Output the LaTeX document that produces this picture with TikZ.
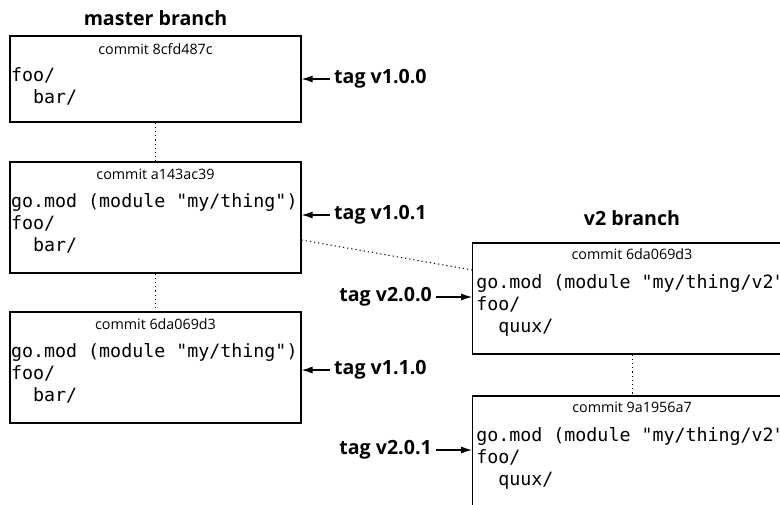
\documentclass[tikz,border=0pt]{standalone}
\usepackage{fontspec}
\newfontfamily\sansfont{Open Sans}
\setmonofont{DejaVu Sans Mono}
\usetikzlibrary{positioning, calc, arrows.meta}

\begin{document}
\begin{tikzpicture}[x=1pt, y=-1pt,
	commitbox/.style={rectangle, draw, line width=1.2pt, minimum width=291pt, minimum height=111pt, inner sep=0pt},
	hashlabel/.style={inner sep=0pt, font=\sansfont\fontsize{14.3}{17}\selectfont},
	filetree/.style={inner sep=0pt, align=left, font=\ttfamily\fontsize{18.3}{21.7}\selectfont},
	taglabel/.style={inner sep=4pt, font=\sansfont\bfseries\fontsize{19.6}{24}\selectfont},
	branchlabel/.style={taglabel, inner sep=0pt},
	dotlink/.style={line width=1pt, dash pattern=on 1.2pt off 3pt},
	tagarrow/.style={line width=1.2pt, -{Latex[length=11pt,width=7pt]}}
	]
	\clip (0,0) rectangle (780,504);

	% master branch
	\node[commitbox, minimum height=86pt] (c1) at (155.5,79) {};
	\node[commitbox] (c2) at (155.5,217.5) {};
	\node[commitbox] (c3) at (155.5,367.5) {};
	\node[branchlabel, above=10pt of c1] (master) {master branch};

	\node[hashlabel, below=8pt of c1.north] (h1) {commit 8cfd487c};
	\node[hashlabel, below=7pt of c2.north] (h2) {commit a143ac39};
	\node[hashlabel, below=7pt of c3.north] (h3) {commit 6da069d3};
	\node[filetree, below right=32pt and 1.5pt of c1.north west] (f1) {foo/\\~~bar/};
	\node[filetree, below right=32pt and 1.5pt of c2.north west] (f2) {go.mod (module "my/thing")\\foo/\\~~bar/};
	\node[filetree, below right=32pt and 1.5pt of c3.north west] (f3) {go.mod (module "my/thing")\\foo/\\~~bar/};

	% v2 branch
	\node[commitbox, minimum width=318.6pt] (v1) at (632,298.5) {};
	\node[commitbox, minimum width=318.6pt] (v2) at (632,451.5) {};
	\node[branchlabel, above=17pt of v1] (vtwo) {v2 branch};

	\node[hashlabel, below=6pt of v1.north] (h4) {commit 6da069d3};
	\node[hashlabel, below=6pt of v2.north] (h5) {commit 9a1956a7};
	\node[filetree, below right=32pt and 4pt of v1.north west] (f4) {go.mod (module "my/thing/v2")\\foo/\\~~quux/};
	\node[filetree, below right=32pt and 4pt of v2.north west] (f5) {go.mod (module "my/thing/v2")\\foo/\\~~quux/};

	% history
	\draw[dotlink] (c1) -- (c2);
	\draw[dotlink] (c2) -- (c3);
	\draw[dotlink] (v1) -- (v2);
	\draw[dotlink] ([yshift=-22.5pt]c2.east) -- ([yshift=28.5pt]v1.west);

	% tags
	\node[taglabel, anchor=west] (t100) at (330,79) {tag v1.0.0};
	\node[taglabel, anchor=west] (t101) at (330,215) {tag v1.0.1};
	\node[taglabel, anchor=west] (t110) at (330,370) {tag v1.1.0};
	\node[taglabel, anchor=east] (t200) at (436,297) {tag v2.0.0};
	\node[taglabel, anchor=east] (t201) at (436,450) {tag v2.0.1};
	\draw[tagarrow] (t100.west) -- (t100.west -| c1.east);
	\draw[tagarrow] (t101.west) -- (t101.west -| c2.east);
	\draw[tagarrow] (t110.west) -- (t110.west -| c3.east);
	\draw[tagarrow] (t200.east) -- (t200.east -| v1.west);
	\draw[tagarrow] (t201.east) -- (t201.east -| v2.west);
\end{tikzpicture}
\end{document}
